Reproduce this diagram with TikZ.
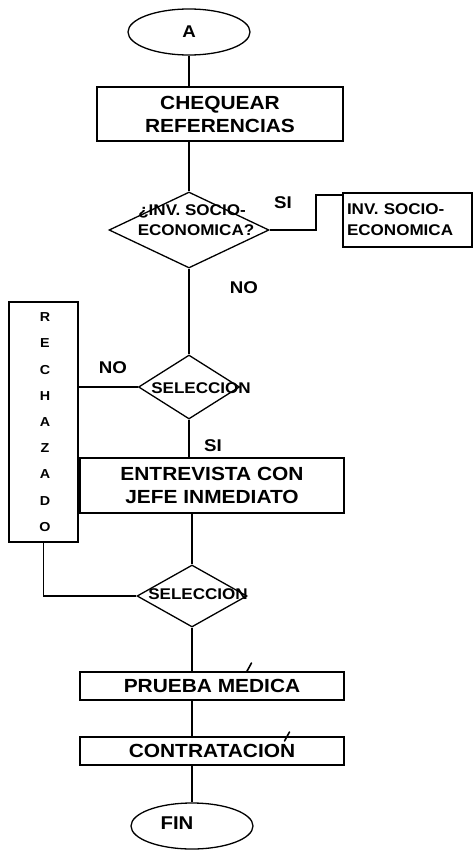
\documentclass[tikz,border=0pt]{standalone}
\usepackage{fontspec}
\setmainfont{Liberation Sans}[FakeStretch=1.1]
\usetikzlibrary{shapes.geometric}
\begin{document}
\begin{tikzpicture}[x=1pt,y=-1pt,line width=1.3pt,
  big/.style={font=\bfseries\fontsize{19}{23}\selectfont},
  small/.style={font=\bfseries\fontsize{15.5}{19}\selectfont},
  lbl/.style={font=\bfseries\fontsize{17}{20}\selectfont, inner sep=0pt},
  proc/.style={draw, rectangle, inner sep=0pt, big, align=center},
  term/.style={draw, ellipse, inner sep=0pt, minimum width=122pt, minimum height=46pt},
  dec/.style={draw, diamond, inner sep=0pt},
  dectext/.style={small, inner sep=0pt, align=center},
  flow/.style={line width=1.3pt}]
\useasboundingbox (0,0) rectangle (473,851);

% terminals
\node[term, font=\bfseries\fontsize{17}{20}\selectfont] (A) at (189,32) {A};
\node[term] (fin) at (192,826) {};
\node[font=\bfseries\fontsize{18.5}{20}\selectfont, inner sep=0pt] (fintxt) at (177,823) {FIN};

% process boxes
\node[proc, minimum width=246pt, minimum height=54pt] (chq) at (220,114) {CHEQUEAR\\REFERENCIAS};
\node[draw, rectangle, small, align=left, inner sep=0pt, minimum width=129pt, minimum height=54pt,
      text width=121pt] (inv) at (407.5,220) {INV. SOCIO-\\[2pt]ECONOMICA};
\node[proc, minimum width=264pt, minimum height=55pt] (ent) at (212,485.5) {ENTREVISTA CON\\JEFE INMEDIATO};
\node[proc, minimum width=264pt, minimum height=28pt] (pru) at (212,686) {PRUEBA MEDICA};
\node[proc, minimum width=264pt, minimum height=28pt] (con) at (212,751) {CONTRATACION};
\node[draw, rectangle, inner sep=0pt, minimum width=69pt, minimum height=240pt] (rech) at (43.5,422) {};
\node[font=\bfseries\fontsize{13}{26.2}\selectfont, align=center, inner sep=0pt] (rechtxt) at (45,422)
  {R\\E\\C\\H\\A\\Z\\A\\D\\O};

% decisions
\node[dec, minimum width=160pt, minimum height=76pt] (d1) at (189,230) {};
\node[dectext] (d1txt) at (192,220) {¿INV. SOCIO-\\[1pt]\hspace*{8pt}ECONOMICA?};
\node[dec, minimum width=101pt, minimum height=64pt] (d2) at (189,387) {};
\node[dectext] (d2txt) at (201,388) {SELECCION};
\node[dec, minimum width=110pt, minimum height=62pt] (d3) at (192,596) {};
\node[dectext] (d3txt) at (198,594) {SELECCION};

% handwritten accents
\draw[line width=1.6pt, line cap=round] (246.5,672) -- (251.5,663);
\draw[line width=1.6pt, line cap=round] (284.5,741) -- (289.5,732);

% branch labels
\node[lbl] (si1) at (283,203) {SI};
\node[lbl] (no1) at (244,288) {NO};
\node[lbl] (no2) at (113,368) {NO};
\node[lbl] (si2) at (213,446) {SI};

% connectors
\coordinate (c1) at (316,230);
\coordinate (c2) at (316,195);
\coordinate (c3) at (43.5,596);
\draw[flow] (A.south) -- (A.south |- chq.north);
\draw[flow] (d1.north |- chq.south) -- (d1.north);
\draw[flow] (d1.east) -- (c1) -- (c2) -- (c2 -| inv.west);
\draw[flow] (d1.south) -- (d2.north);
\draw[flow] (d2.west) -- (d2.west -| rech.east);
\draw[flow] (d2.south) -- (d2.south |- ent.north);
\draw[flow] (d3.north |- ent.south) -- (d3.north);
\draw[flow] (d3.west) -- (c3) -- (rech.south);
\draw[flow] (d3.south) -- (d3.south |- pru.north);
\draw[flow] (d3.south |- pru.south) -- (d3.south |- con.north);
\draw[flow] (d3.south |- con.south) -- (fin.north);
\end{tikzpicture}
\end{document}
